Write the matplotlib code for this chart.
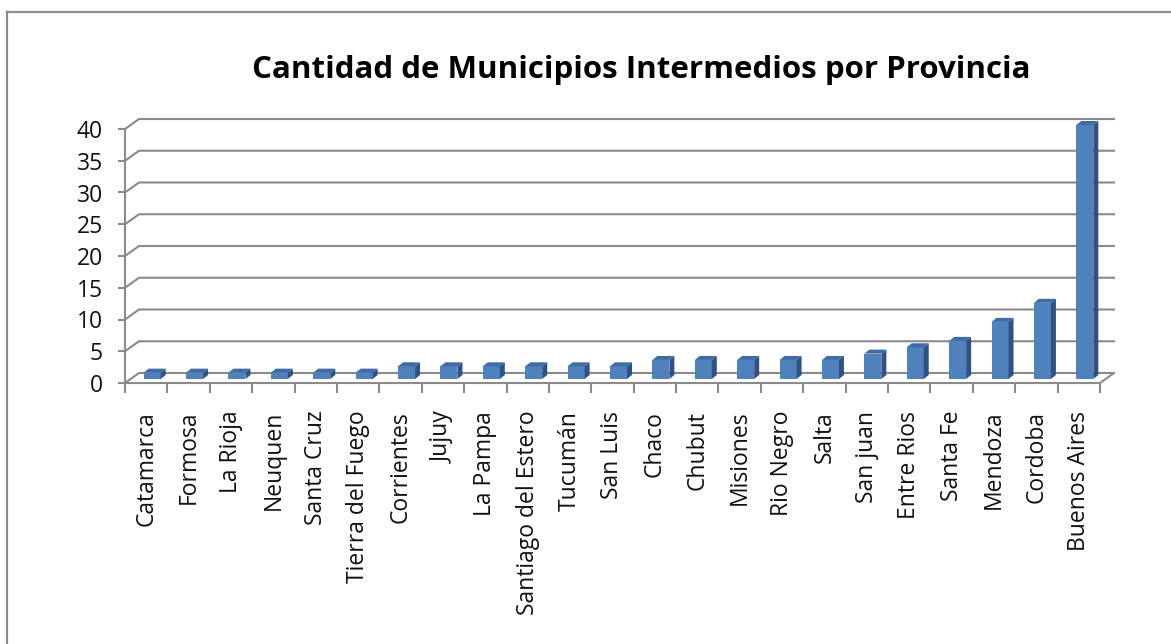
import matplotlib.pyplot as plt
from matplotlib.patches import Polygon
from matplotlib.lines import Line2D
import numpy as np

plt.rcParams['font.family'] = ['Open Sans', 'DejaVu Sans']

# --- Data ---
provincias = ["Catamarca", "Formosa", "La Rioja", "Neuquen", "Santa Cruz",
              "Tierra del Fuego", "Corrientes", "Jujuy", "La Pampa",
              "Santiago del Estero", "Tucumán", "San Luis", "Chaco", "Chubut",
              "Misiones", "Rio Negro", "Salta", "San juan", "Entre Rios",
              "Santa Fe", "Mendoza", "Cordoba", "Buenos Aires"]
municipios = [1, 1, 1, 1, 1, 1, 2, 2, 2, 2, 2, 2, 3, 3, 3, 3, 3, 4, 5, 6, 9, 12, 40]
y_ticks = [0, 5, 10, 15, 20, 25, 30, 35, 40]
titulo = "Cantidad de Municipios Intermedios por Provincia"

W, H = 1171, 644
fig = plt.figure(figsize=(W / 100, H / 100), dpi=100)

# outer frame (only top and left visible in the crop)
fig.add_artist(Line2D([7 / W, 7 / W], [0, 1 - 12 / H], color="#8c8c8c", lw=1.6))
fig.add_artist(Line2D([7 / W, 1], [1 - 12 / H, 1 - 12 / H], color="#8c8c8c", lw=1.6))

ax = fig.add_axes([125 / W, 1 - 383 / H, 975 / W, (383 - 129) / H])
n = len(provincias)
ax.set_xlim(-0.5, n - 0.5)
ax.set_ylim(0, 40)

# depth of the 3D box, in data units
px_x = 975 / n
px_y = (383 - 129) / 40
DX = 14 / px_x
DY = 10 / px_y
grid_c = "#8a8a8a"

# gridlines on the back wall plus the diagonal on the left wall
for v in y_ticks:
    ax.plot([-0.5, -0.5 + DX, n - 0.5 + DX], [v, v + DY, v + DY],
            color=grid_c, lw=1.5, clip_on=False, zorder=1)
# right floor edge
ax.plot([n - 0.5, n - 0.5 + DX], [0, DY], color=grid_c, lw=1.5, clip_on=False, zorder=1)

# bars: front face with ax.bar, sides and tops as polygons
x = np.arange(n)
BW = 17 / px_x
BX = 6 / px_x
BY = 4 / px_y
SX = 5 / px_x
SY = 4 / px_y
vals = np.array(municipios, dtype=float)
ax.bar(x + BX, vals, width=BW, bottom=BY, color="#4f81bd", zorder=3,
       clip_on=False, linewidth=0)
for xi, v in zip(x, vals):
    x0 = xi + BX - BW / 2
    x1 = xi + BX + BW / 2
    top = v + BY
    side = Polygon([(x1, BY), (x1 + SX, BY + SY), (x1 + SX, top + SY), (x1, top)],
                   closed=True, facecolor="#2f5282", edgecolor="none",
                   zorder=3, clip_on=False)
    cap = Polygon([(x0, top), (x0 + SX, top + SY), (x1 + SX, top + SY), (x1, top)],
                  closed=True, facecolor="#3f6ca6", edgecolor="none",
                  zorder=3, clip_on=False)
    ax.add_patch(side)
    ax.add_patch(cap)

# axes
for s in ["top", "right"]:
    ax.spines[s].set_visible(False)
for s in ["left", "bottom"]:
    ax.spines[s].set_color(grid_c)
    ax.spines[s].set_linewidth(1.5)
ax.set_facecolor("none")

ax.set_yticks(y_ticks)
ax.set_yticklabels([str(t) for t in y_ticks], fontsize=16.5, color="#111111")
ax.tick_params(axis="y", length=5, width=1.5, color=grid_c, pad=11)

ax.set_xticks(x)
ax.set_xticklabels(provincias, rotation=90, fontsize=16.5, color="#111111",
                   va="top", ha="center")
ax.set_xticks(np.arange(-0.5, n, 1.0), minor=True)
ax.tick_params(axis="x", which="major", length=0, pad=20)
ax.tick_params(axis="x", which="minor", length=7, width=1.5, color=grid_c)

fig.text(641 / W, 1 - 70 / H, titulo, fontsize=22.5, fontweight="bold",
         ha="center", va="center", color="black")

fig.savefig("out.png", dpi=100)
